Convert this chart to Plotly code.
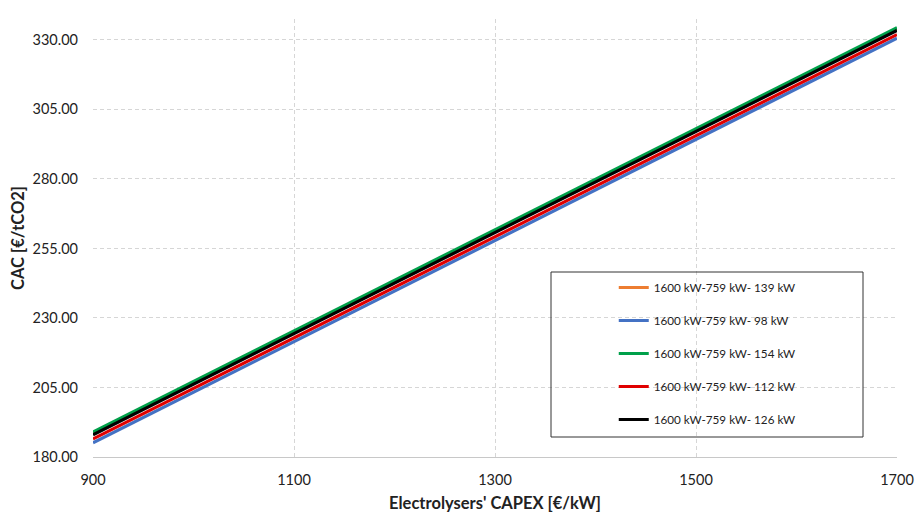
import plotly.graph_objects as go

capex = [900, 1100, 1300, 1500, 1700]
series_names = [
    "1600 kW-759 kW- 139 kW",
    "1600 kW-759 kW- 98 kW",
    "1600 kW-759 kW- 154 kW",
    "1600 kW-759 kW- 112 kW",
    "1600 kW-759 kW- 126 kW",
]
cac_139 = [188.5, 224.9, 261.2, 297.6, 333.9]
cac_98 = [185.1, 221.5, 257.9, 294.2, 330.6]
cac_154 = [189.0, 225.4, 261.7, 298.1, 334.4]
cac_112 = [186.5, 222.9, 259.2, 295.6, 331.9]
cac_126 = [188.0, 224.4, 260.7, 297.1, 333.4]
y_ticks = [180, 205, 230, 255, 280, 305, 330]
x_ticks = [900, 1100, 1300, 1500, 1700]

colors = ["#ED7D31", "#4472C4", "#00A04A", "#E00000", "#000000"]
values = [cac_139, cac_98, cac_154, cac_112, cac_126]

fig = go.Figure()
for i, (name, vals, col) in enumerate(zip(series_names, values, colors)):
    fig.add_trace(go.Scatter(
        x=capex, y=vals, mode="lines", name=name,
        line=dict(color=col, width=3.2),
        legendgroup=f"g{i}",
    ))

font_family = "Lato, 'Open Sans', sans-serif"

top_px, bot_px = 19, 457
ph = bot_px - top_px

fig.update_layout(
    width=916, height=513,
    margin=dict(l=93, r=19, t=top_px, b=513 - bot_px),
    paper_bgcolor="white", plot_bgcolor="white",
    font=dict(family=font_family, color="#222222"),
    showlegend=True,
    legend=dict(
        x=0.764, y=(bot_px - 353.5) / ph, xanchor="center", yanchor="middle",
        bgcolor="rgba(0,0,0,0)", borderwidth=0,
        font=dict(size=11.7, family=font_family, color="#222222"),
        traceorder="grouped", tracegroupgap=14,
        itemwidth=30,
    ),
    xaxis=dict(
        range=[900, 1700], tickvals=x_ticks,
        ticktext=[str(v) for v in x_ticks],
        showgrid=True, gridcolor="#D6D6D6", griddash="4px,3px", gridwidth=1,
        showline=True, linecolor="#C8C8C8", linewidth=1,
        zeroline=False, ticks="", automargin=False,
        tickfont=dict(size=14.5),
        ticklabelstandoff=10,
        title=dict(text="<b>Electrolysers' CAPEX [€/kW]</b>", font=dict(size=16.5), standoff=10),
    ),
    yaxis=dict(
        range=[180, 337.5], tickvals=y_ticks,
        ticktext=[f"{v:.2f}" for v in y_ticks],
        showgrid=True, gridcolor="#D6D6D6", griddash="4px,3px", gridwidth=1,
        showline=False, zeroline=False, ticks="", automargin=False,
        tickfont=dict(size=14.5),
        ticklabelstandoff=14,
        title=dict(text="<b>CAC [€/tCO2]</b>", font=dict(size=16.5), standoff=3),
    ),
    shapes=[dict(
        type="rect", xref="paper", yref="paper",
        x0=(551 - 93) / 804, x1=(863 - 93) / 804,
        y0=(bot_px - 437) / ph, y1=(bot_px - 272) / ph,
        line=dict(color="#333333", width=1), fillcolor="rgba(0,0,0,0)",
        layer="above",
    )],
)

fig.write_html(
    "out.html",
    config={"displayModeBar": False},
    post_script="document.body.style.margin='0';document.body.style.padding='0';",
)
